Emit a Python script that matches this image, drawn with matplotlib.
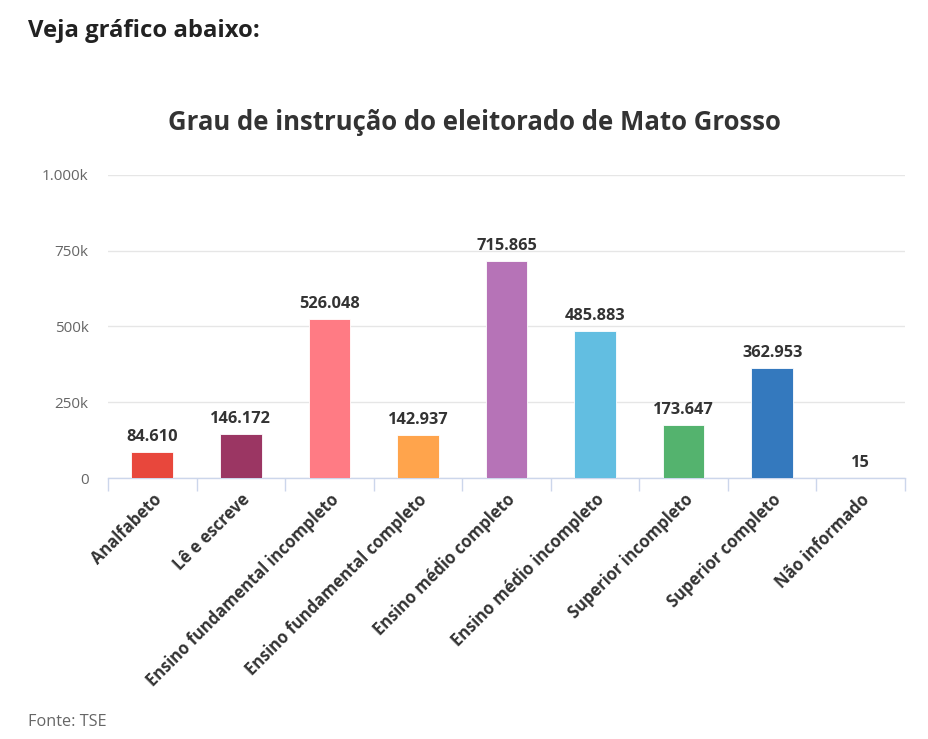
import matplotlib.pyplot as plt
import numpy as np
from matplotlib.ticker import FixedLocator

plt.rcParams['font.family'] = ['Open Sans', 'DejaVu Sans']

categories = ['Analfabeto', 'Lê e escreve', 'Ensino fundamental incompleto',
              'Ensino fundamental completo', 'Ensino médio completo',
              'Ensino médio incompleto', 'Superior incompleto',
              'Superior completo', 'Não informado']
values = [84610, 146172, 526048, 142937, 715865, 485883, 173647, 362953, 15]
value_labels = ['84.610', '146.172', '526.048', '142.937', '715.865',
                '485.883', '173.647', '362.953', '15']
colors = ['#E8473C', '#9B3663', '#FF7B84', '#FFA44C', '#B673B7',
          '#62BEE1', '#54B36E', '#3479BE', '#E5E5E5']
yticks = [0, 250000, 500000, 750000, 1000000]
ytick_labels = ['0', '250k', '500k', '750k', '1.000k']

fig = plt.figure(figsize=(9.29, 7.39), dpi=100)
ax = fig.add_axes([108 / 929, 1 - 478 / 739, (905 - 108) / 929, (478 - 175) / 739])

x = np.arange(len(categories))
ax.bar(x, values, width=0.47, color=colors, edgecolor='white', linewidth=0.6, zorder=3)
for xi, v, lab in zip(x, values, value_labels):
    ax.annotate(lab, (xi, v), xytext=(0, 5), textcoords='offset points',
                ha='center', va='bottom', fontsize=11.8, fontweight='bold', color='#333333')

ax.set_xlim(-0.5, len(categories) - 0.5)
ax.set_ylim(0, 1000000)
ax.set_yticks(yticks)
ax.set_yticklabels(ytick_labels, fontsize=11, color='#666666')
ax.tick_params(axis='y', length=0, pad=14)
ax.yaxis.grid(True, color='#e6e6e6', linewidth=1, zorder=0)

ax.set_xticks(x)
ax.set_xticklabels(categories, rotation=45, ha='right', rotation_mode='anchor',
                   fontsize=11.9, fontweight='bold', color='#333333')
ax.tick_params(axis='x', length=0, pad=9)
ax.xaxis.set_minor_locator(FixedLocator(np.arange(-0.5, len(categories), 1)))
ax.tick_params(axis='x', which='minor', length=9.5, color='#ccd6eb', width=1)

for s in ['top', 'right', 'left']:
    ax.spines[s].set_visible(False)
ax.spines['bottom'].set_color('#ccd6eb')
ax.spines['bottom'].set_linewidth(1)

fig.text(474 / 929, 1 - 123 / 739, 'Grau de instrução do eleitorado de Mato Grosso',
         ha='center', va='center', fontsize=18.5, fontweight='bold', color='#333333')
fig.text(28 / 929, 1 - 31 / 739, 'Veja gráfico abaixo:', ha='left', va='center',
         fontsize=17.2, fontweight='bold', color='#222222')
fig.text(28 / 929, 1 - 722 / 739, 'Fonte: TSE', ha='left', va='center',
         fontsize=11.7, color='#666666')

fig.savefig('out.png', dpi=100)
